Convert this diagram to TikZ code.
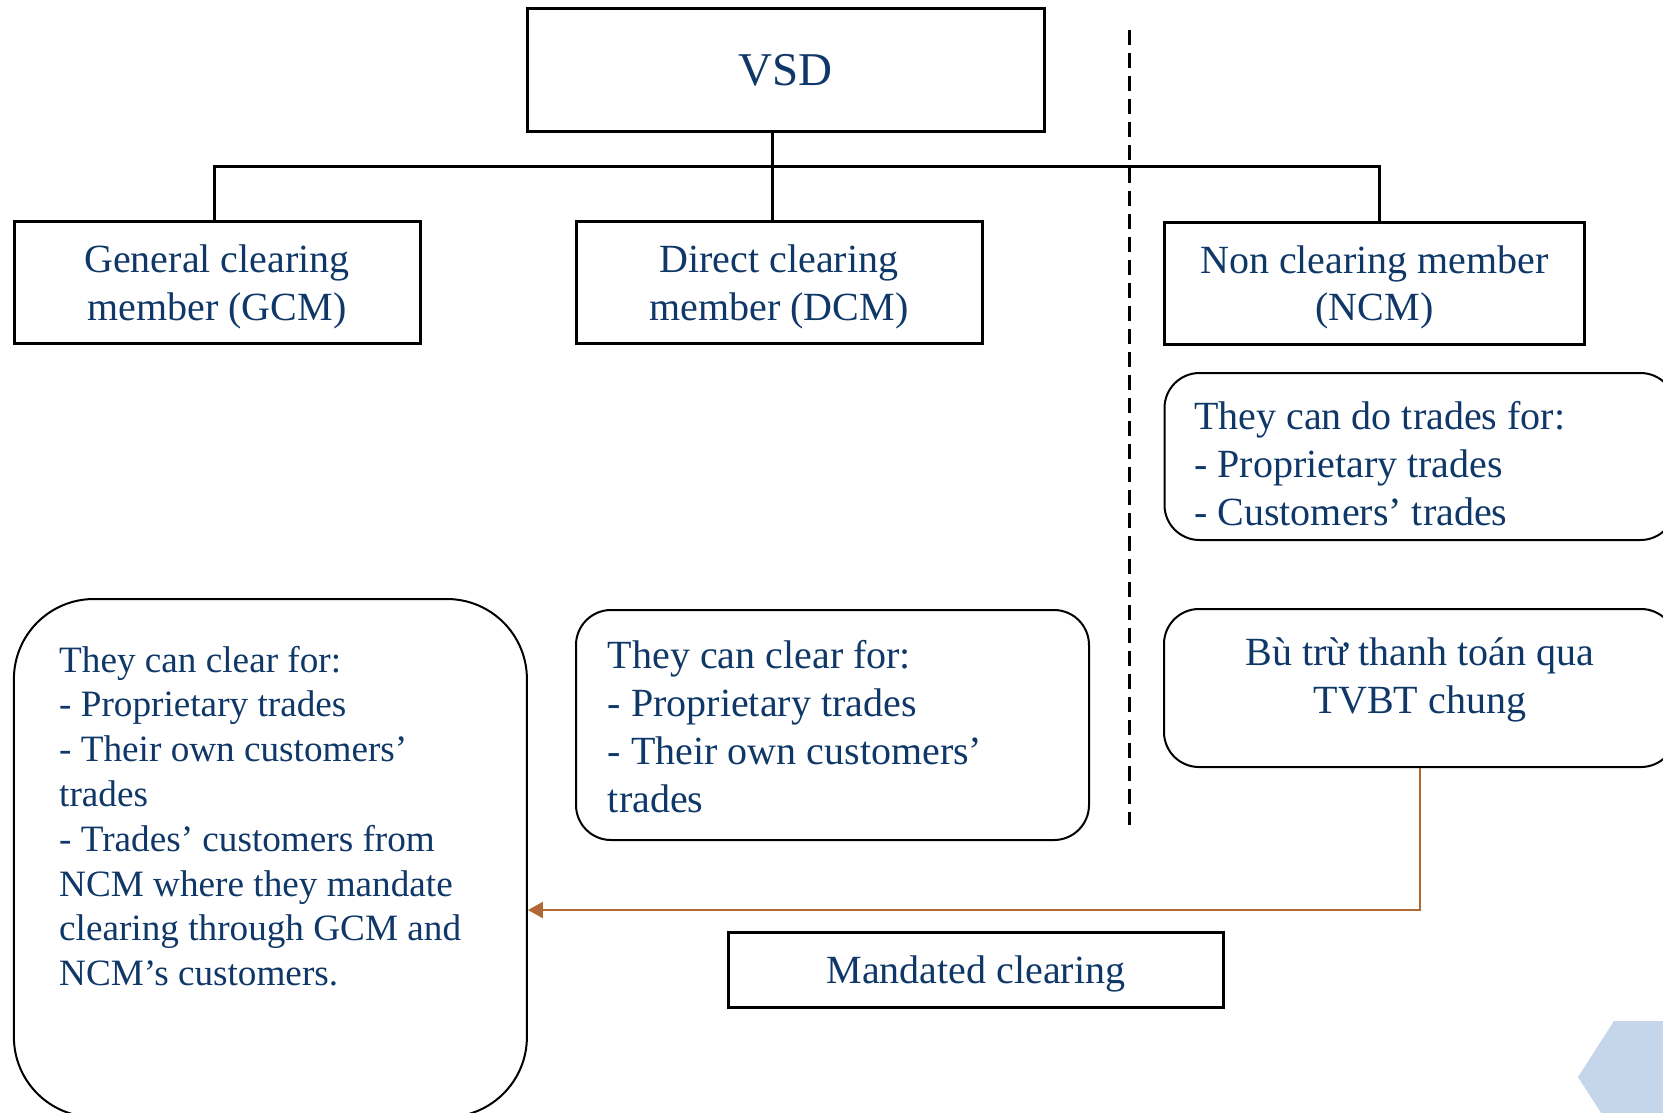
\documentclass[tikz,border=0pt]{standalone}
\usepackage{fontspec}
\setmainfont{Liberation Serif}
\usetikzlibrary{positioning}
\usetikzlibrary{arrows.meta}

\definecolor{navy}{HTML}{0F3868}
\definecolor{rust}{RGB}{177,104,52}
\definecolor{hexblue}{RGB}{197,213,234}

\begin{document}
\begin{tikzpicture}[x=1pt, y=-1pt,
    HDR/.style={rectangle, draw=black, line width=3pt, minimum width=406pt, minimum height=122pt, align=center, text=navy, inner sep=0pt, text depth=0pt, font=\fontsize{40}{47.7}\selectfont},
    INFO/.style={rectangle, rounded corners=35pt, draw=black, line width=2pt, inner sep=0pt},
    TXT/.style={text=navy, align=left, inner sep=0pt, font=\fontsize{40}{48}\selectfont},
    TREE/.style={draw=black, line width=3pt}]

    \useasboundingbox (0,0) rectangle (1663,1112);
    \clip (0,0) rectangle (1663,1112);

    \fill[hexblue] (1614,1021) -- (1578,1077) -- (1614,1133) -- (1700,1133) -- (1700,1021) -- cycle;

    \node[HDR, minimum width=517pt, minimum height=123pt, font=\fontsize{47}{56}\selectfont] (vsd) at (785.5,70) {VSD};
    \node[HDR] (dcm) at (779,282.7) {Direct clearing\\member (DCM)};
    \node[HDR] (gcm) at (217,282.7) {General clearing\\member (GCM)};
    \node[HDR, minimum width=420pt] (ncm) at (1374.5,283) {Non clearing member\\(NCM)};

    \coordinate (bus) at (0,166.5);
    \draw[TREE] ([xshift=-3pt]gcm.north) |- ([xshift=4.5pt]ncm.north |- bus) -- ([xshift=4.5pt]ncm.north);
    \draw[TREE] ([xshift=-13.5pt]vsd.south) -- ([xshift=-7pt]dcm.north);

    \coordinate (dtop) at (1129.5,30);
    \coordinate (dbot) at (1129.5,825);
    \draw[line width=3pt, dash pattern=on 15pt off 8pt] (dtop) -- (dbot);

    \node[INFO, rounded corners=80pt, minimum width=513pt, minimum height=518pt] (gcmclr) at (270.4,858) {};
    \node[TXT, anchor=base west, font=\fontsize{37.2}{44.8}\selectfont] (gcmtxt) at (59,985.6)
        {They can clear for:\\
         - Proprietary trades\\
         - Their own customers’\\
         trades\\
         - Trades’ customers from\\
         NCM where they mandate\\
         clearing through GCM and\\
         NCM’s customers.};

    \node[INFO, minimum width=513pt, minimum height=230pt] (dcmclr) at (832.5,725) {};
    \node[TXT, anchor=base west] (dcmtxt) at (607.7,812)
        {They can clear for:\\
         - Proprietary trades\\
         - Their own customers’\\
         trades};

    \node[INFO, minimum width=511pt, minimum height=167pt] (ncmclr) at (1420,456.5) {};
    \node[TXT, anchor=base west] (ncmtxt) at (1194,525)
        {They can do trades for:\\
         - Proprietary trades\\
         - Customers’ trades};

    \node[INFO, minimum width=512pt, minimum height=158pt] (vnclr) at (1420,688) {};
    \node[TXT, align=center, anchor=base] (vntxt) at (1420,713)
        {Bù trừ thanh toán qua\\
         TVBT chung};

    \node[HDR, minimum width=495pt, minimum height=75pt] (mand) at (976,970) {Mandated clearing};

    \coordinate (mandy) at (0,910);
    \draw[rust, line width=2pt, -{Triangle[length=15pt, width=16pt]}] (vnclr.south) |- (gcmclr.east |- mandy);
\end{tikzpicture}
\end{document}
